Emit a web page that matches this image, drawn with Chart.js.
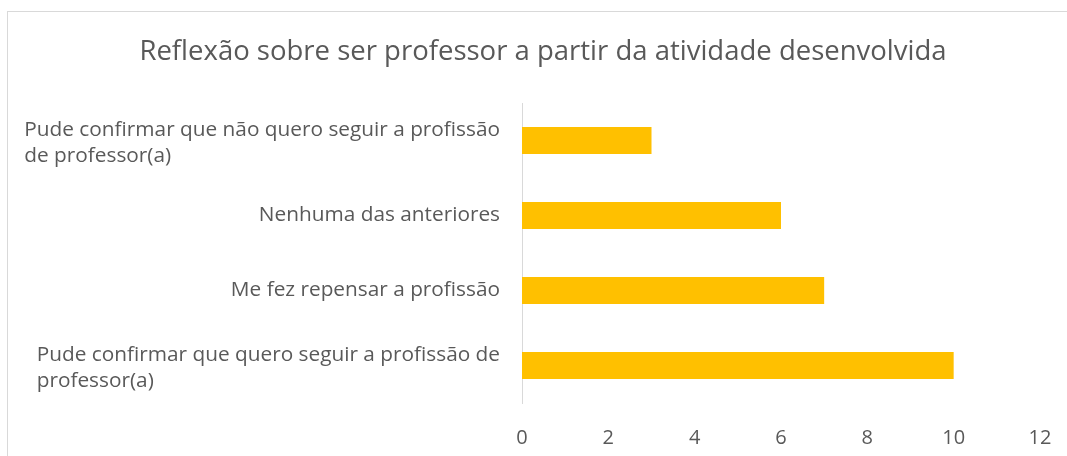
<!DOCTYPE html>
<html>
<head>
<meta charset="utf-8">
<script src="https://cdn.jsdelivr.net/npm/chart.js@4/dist/chart.umd.min.js"></script>
<style>
  html, body { margin: 0; padding: 0; background: #fff; }
  #wrap { width: 1067px; height: 456px; position: relative; }
</style>
</head>
<body>
<div id="wrap"><canvas id="chart"></canvas></div>
<script>
// data
var categories = [
  ["Pude confirmar que não quero seguir a profissão", "de professor(a)"],
  ["Nenhuma das anteriores"],
  ["Me fez repensar a profissão"],
  ["Pude confirmar que quero seguir a profissão de", "professor(a)"]
];
var values = [3, 6, 7, 10];
var xMin = 0, xMax = 12, xStep = 2;

var chartTitle = "Reflexão sobre ser professor a partir da atividade desenvolvida";
var textColor = "#595959";
var fontFamily = "'Open Sans', sans-serif";

// frame around the chart (only top/left show in the window) + title
var framePlugin = {
  id: "frame",
  beforeDraw: function(chart) {
    var ctx = chart.ctx;
    ctx.save();
    ctx.strokeStyle = "#d9d9d9";
    ctx.lineWidth = 1;
    ctx.strokeRect(7.5, 11.5, chart.width + 20, chart.height + 20);
    ctx.font = "27.5px " + fontFamily;
    ctx.fillStyle = textColor;
    ctx.textAlign = "center";
    ctx.textBaseline = "middle";
    ctx.fillText(chartTitle, 543, 52);
    ctx.restore();
  }
};

// category labels: block right aligned, lines left aligned inside the block
var catLabelPlugin = {
  id: "catLabels",
  afterDraw: function(chart) {
    var ctx = chart.ctx;
    var yScale = chart.scales.y;
    var right = chart.chartArea.left - 22;
    ctx.save();
    ctx.font = "20.8px " + fontFamily;
    ctx.fillStyle = textColor;
    ctx.textAlign = "left";
    ctx.textBaseline = "middle";
    categories.forEach(function(lines, i) {
      var w = 0;
      lines.forEach(function(l) { w = Math.max(w, ctx.measureText(l).width); });
      var x0 = right - w;
      var yc = yScale.getPixelForTick(i);
      var lh = 26;
      var shift = lines.length > 1 ? 3 : 0;
      lines.forEach(function(l, j) {
        ctx.fillText(l, x0, yc + shift + (j - (lines.length - 1) / 2) * lh);
      });
    });
    ctx.restore();
  }
};

var ctx = document.getElementById("chart").getContext("2d");
var config = {
  type: "bar",
  data: {
    labels: categories.map(function(c) { return c.join(" "); }),
    datasets: [{
      label: "Respostas",
      data: values,
      backgroundColor: "#ffc000",
      borderWidth: 0,
      categoryPercentage: 1,
      barPercentage: 0.36
    }]
  },
  options: {
    indexAxis: "y",
    responsive: true,
    maintainAspectRatio: false,
    animation: false,
    layout: { padding: { left: 522, right: 27, top: 103, bottom: 0 } },
    plugins: {
      legend: { display: false },
      tooltip: { enabled: false },
      title: { display: false }
    },
    scales: {
      x: {
        min: xMin,
        max: xMax,
        grid: { display: false },
        border: { display: false },
        ticks: {
          stepSize: xStep,
          color: textColor,
          font: { family: fontFamily, size: 20 },
          padding: 15,
          maxRotation: 0
        },
        afterFit: function(scale) {
          scale.height = 53;
          scale.paddingLeft = 0;
          scale.paddingRight = 0;
        }
      },
      y: {
        grid: { display: false },
        border: { display: true, color: "#d9d9d9", width: 1 },
        ticks: { display: false },
        afterFit: function(scale) { scale.width = 0; }
      }
    }
  },
  plugins: [framePlugin, catLabelPlugin]
};
var chart = new Chart(ctx, config);
</script>
</body>
</html>
